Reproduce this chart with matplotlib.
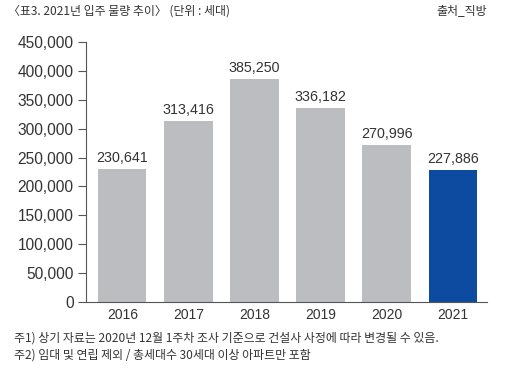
import numpy as np
import matplotlib
matplotlib.use("Agg")
import matplotlib.pyplot as plt

plt.rcParams['font.family'] = ['Liberation Sans', 'Noto Sans CJK KR', 'DejaVu Sans']

years = ["2016", "2017", "2018", "2019", "2020", "2021"]
supply = [230641, 313416, 385250, 336182, 270996, 227886]
bar_colors = ["#bcbdc0"] * 5 + ["#0d4ba0"]
yticks = np.arange(0, 450001, 50000)

text_color = "#333333"
kr_font = ['Noto Sans CJK KR', 'DejaVu Sans']

fig = plt.figure(figsize=(5.1, 3.77), dpi=100)
ax = fig.add_axes([86 / 510, 1 - 302 / 377, (487 - 86) / 510, (302 - 42) / 377])

x = np.arange(len(years))
bars = ax.bar(x, supply, width=0.73, color=bar_colors)

for xi, v in zip(x, supply):
    ax.annotate(f"{v:,}", (xi, v), xytext=(0, 3), textcoords="offset points",
                ha="center", va="bottom", fontsize=10.3, color=text_color)

ax.set_xlim(-0.55, 5.52)
ax.set_ylim(0, 450000)
ax.set_yticks(yticks)
ax.set_yticklabels([f"{t:,}" for t in yticks], fontsize=11.2, color=text_color)
ax.set_xticks(x)
ax.set_xticklabels(years, fontsize=10, color=text_color)

ax.tick_params(axis="y", direction="out", length=6, width=0.8, color="#555555", pad=3)
ax.tick_params(axis="x", length=0, pad=4)
for side in ["top", "right"]:
    ax.spines[side].set_visible(False)
for side in ["left", "bottom"]:
    ax.spines[side].set_color("#555555")
    ax.spines[side].set_linewidth(0.8)

fig.text(8 / 510, 1 - 11 / 377, "〈표3. 2021년 입주 물량 추이〉 (단위 : 세대)",
         fontsize=8.6, color=text_color, va="center", ha="left", family=kr_font)
fig.text(487 / 510, 1 - 11 / 377, "출처_직방",
         fontsize=8.6, color=text_color, va="center", ha="right", family=kr_font)
fig.text(14 / 510, 1 - 338 / 377,
         "주1) 상기 자료는 2020년 12월 1주차 조사 기준으로 건설사 사정에 따라 변경될 수 있음.",
         fontsize=8.6, color=text_color, va="center", ha="left", family=kr_font)
fig.text(14 / 510, 1 - 355 / 377,
         "주2) 임대 및 연립 제외 / 총세대수 30세대 이상 아파트만 포함",
         fontsize=8.6, color=text_color, va="center", ha="left", family=kr_font)

fig.savefig("out.png", dpi=100)
